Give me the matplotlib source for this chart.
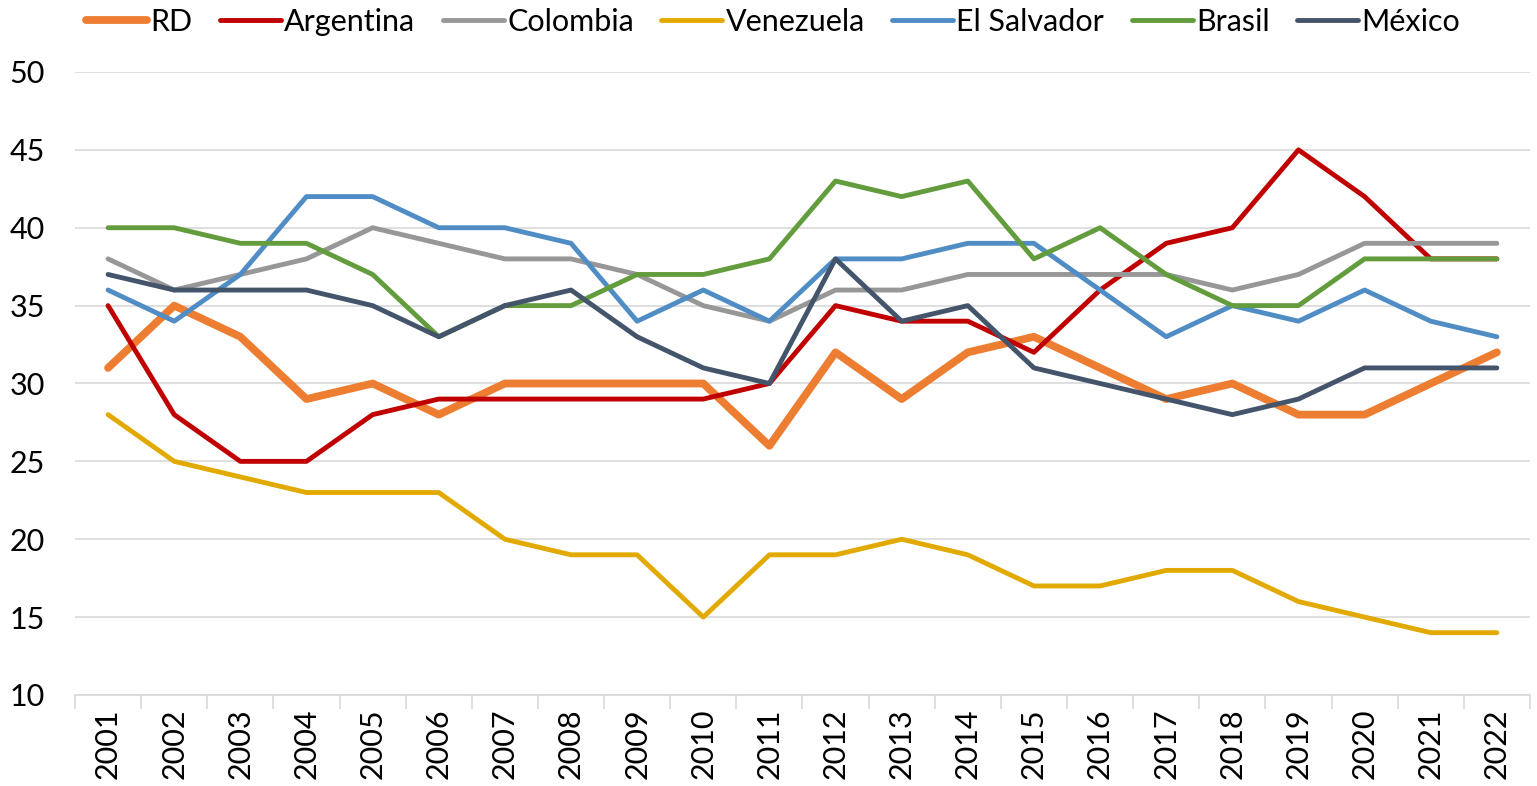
import matplotlib
matplotlib.use("Agg")
import matplotlib.pyplot as plt
import numpy as np

years = [str(y) for y in range(2001, 2023)]

rd = [31, 35, 33, 29, 30, 28, 30, 30, 30, 30, 26, 32, 29, 32, 33, 31, 29, 30, 28, 28, 30, 32]
argentina = [35, 28, 25, 25, 28, 29, 29, 29, 29, 29, 30, 35, 34, 34, 32, 36, 39, 40, 45, 42, 38, 38]
colombia = [38, 36, 37, 38, 40, 39, 38, 38, 37, 35, 34, 36, 36, 37, 37, 37, 37, 36, 37, 39, 39, 39]
venezuela = [28, 25, 24, 23, 23, 23, 20, 19, 19, 15, 19, 19, 20, 19, 17, 17, 18, 18, 16, 15, 14, 14]
el_salvador = [36, 34, 37, 42, 42, 40, 40, 39, 34, 36, 34, 38, 38, 39, 39, 36, 33, 35, 34, 36, 34, 33]
brasil = [40, 40, 39, 39, 37, 33, 35, 35, 37, 37, 38, 43, 42, 43, 38, 40, 37, 35, 35, 38, 38, 38]
mexico = [37, 36, 36, 36, 35, 33, 35, 36, 33, 31, 30, 38, 34, 35, 31, 30, 29, 28, 29, 31, 31, 31]

series = [
    ("RD", rd, "#ED7D31", 5.6),
    ("Argentina", argentina, "#C00000", 3.5),
    ("Colombia", colombia, "#979797", 3.5),
    ("Venezuela", venezuela, "#E2AA00", 3.5),
    ("El Salvador", el_salvador, "#4F8DC4", 3.5),
    ("Brasil", brasil, "#629C3C", 3.5),
    ("México", mexico, "#44546A", 3.5),
]

plt.rcParams["font.family"] = ["Lato", "DejaVu Sans"]

fig = plt.figure(figsize=(15.37, 7.86), dpi=100)
ax = fig.add_axes([0.0488, 0.1158, 0.9466, 0.7926])

x = np.arange(len(years))
for name, vals, color, lw in series:
    ax.plot(x, vals, color=color, linewidth=lw, label=name,
            solid_capstyle="round", solid_joinstyle="round")

ax.set_ylim(10, 50)
ax.set_xlim(-0.5, len(years) - 0.5)
ax.set_yticks(range(10, 51, 5))
ax.grid(axis="y", color="#D9D9D9", linewidth=1.2)
ax.set_axisbelow(True)

ax.set_xticks(x)
ax.set_xticklabels(years, rotation=90, fontsize=22)
ax.set_xticks(np.arange(-0.5, len(years), 1), minor=True)
ax.tick_params(axis="x", which="major", length=0, pad=10)
ax.tick_params(axis="x", which="minor", length=10, color="#D9D9D9", width=1.2)
ax.tick_params(axis="y", length=0, labelsize=22, pad=47)
for lbl in ax.get_yticklabels():
    lbl.set_horizontalalignment("left")

for side in ["left", "right", "top"]:
    ax.spines[side].set_visible(False)
ax.spines["bottom"].set_color("#D9D9D9")
ax.spines["bottom"].set_linewidth(1.2)

fig.legend(loc="center", bbox_to_anchor=(0.503, 0.972), ncol=7, frameon=False,
           fontsize=22, handlelength=2.0, handletextpad=0.1, columnspacing=0.9)

fig.savefig("out.png", dpi=100)
